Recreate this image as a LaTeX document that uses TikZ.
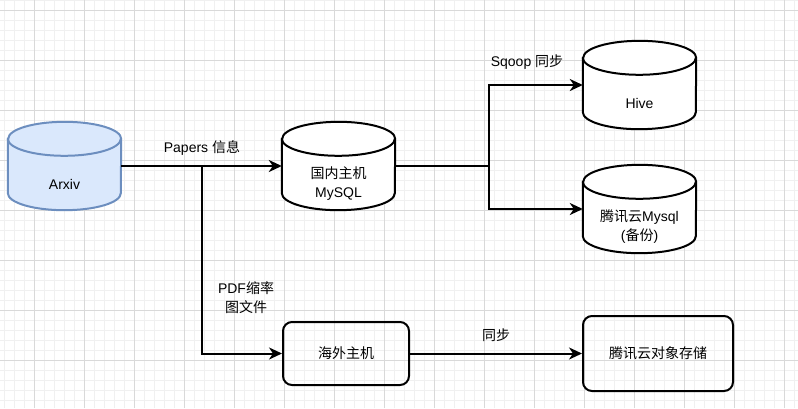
\documentclass[tikz,border=0pt]{standalone}
\usepackage{fontspec}
\setmainfont{Liberation Sans}
\newfontfamily\cjk{Noto Sans CJK SC}
\usetikzlibrary{arrows.meta, backgrounds, positioning}
\definecolor{arxivfill}{HTML}{DAE8FC}
\definecolor{arxivline}{HTML}{6C8EBF}
\newcommand{\zh}[1]{{\cjk #1}}
% cylinder outline round a named node
\newcommand{\drum}[2][]{%
  \draw[line width=2pt, fill=white, #1]
    ([yshift=-17pt]#2.north west) -- ([yshift=17pt]#2.south west)
    arc[start angle=180, end angle=360, x radius=56.5pt, y radius=17pt]
    -- ([yshift=-17pt]#2.north east)
    arc[start angle=0, end angle=180, x radius=56.5pt, y radius=17pt] -- cycle;
  \draw[line width=2pt, #1, fill=none]
    ([yshift=-17pt]#2.north west)
    arc[start angle=180, end angle=360, x radius=56.5pt, y radius=17pt];}

\begin{document}
\begin{tikzpicture}[
    x=1pt, y=-1pt,
    font=\fontsize{14pt}{19pt}\selectfont,
    drum/.style={minimum width=113pt, minimum height=88pt, inner sep=0pt},
    drumtext/.style={align=center, yshift=-18pt},
    box/.style={draw, line width=2pt, rounded corners=9pt, inner sep=0pt},
    flow/.style={line width=2pt, -{Stealth[length=13pt, width=12pt, inset=4pt]}},
    wire/.style={line width=2pt}
]
    \useasboundingbox (0,0) rectangle (798,408);

    % grid
    \begin{scope}[on background layer]
        \fill[white] (0,0) rectangle (798,408);
        \foreach \x in {4,14,...,794} \draw[gray!12] (\x,0) -- (\x,408);
        \foreach \y in {0,10,...,400} \draw[gray!12] (0,\y) -- (798,\y);
        \foreach \x in {34,84,...,784} \draw[gray!30] (\x,0) -- (\x,408);
        \foreach \y in {10,60,...,360} \draw[gray!30] (0,\y) -- (798,\y);
    \end{scope}

    % Define nodes
    \node[drum, label={[drumtext]center:Arxiv}] (arxiv) at (64.5,166) {};
    \node[drum, label={[drumtext]center:{\zh{国内主机}\\MySQL}}] (mysql) at (338.5,166) {};
    \node[drum, label={[drumtext]center:Hive}] (hive) at (639.5,85) {};
    \node[drum, label={[drumtext]center:{\zh{腾讯云}Mysql\\(\zh{备份})}}] (backup) at (639.5,209) {};
    \node[box, minimum width=126pt, minimum height=63pt] (overseas) at (346,353.5) {\zh{海外主机}};
    \node[box, minimum width=150pt, minimum height=75pt] (cos) at (658,353.5) {\zh{腾讯云对象存储}};

    \begin{scope}[on background layer]
        \drum[draw=arxivline, fill=arxivfill]{arxiv}
        \drum{mysql}
        \drum{hive}
        \drum{backup}
    \end{scope}

    % Connectors
    \coordinate (fork) at (202,166);
    \coordinate (sync) at (489,166);
    \draw[flow] (arxiv.east) -- (mysql.west);
    \draw[flow] (fork) |- (overseas.west);
    \draw[wire] (mysql.east) -- (sync);
    \draw[flow] (sync) |- (hive.west);
    \draw[flow] (sync) |- (backup.west);
    \draw[flow] (overseas) -- (cos);

    % Edge labels
    \node (papers) at (202,148) {Papers \zh{信息}};
    \node (sqoop) at (527,62) {Sqoop \zh{同步}};
    \node[align=center] (pdf) at (246,298) {PDF\zh{缩率}\\\zh{图文件}};
    \node (mirror) at (496,335) {\zh{同步}};
\end{tikzpicture}
\end{document}
